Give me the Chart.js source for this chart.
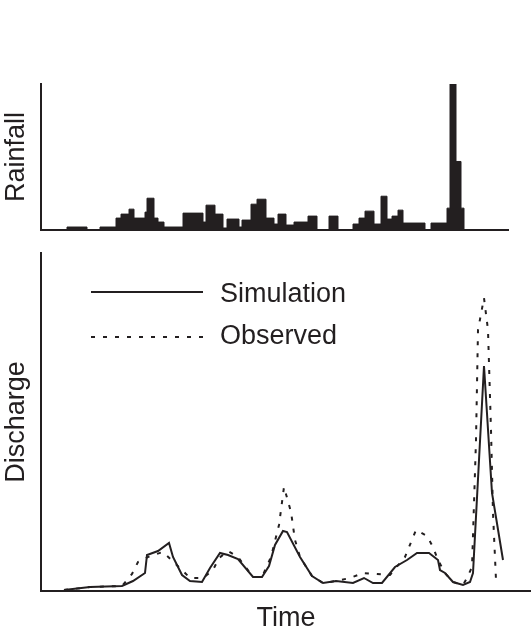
<!DOCTYPE html>
<html>
<head>
<meta charset="utf-8">
<script src="https://cdn.jsdelivr.net/npm/chart.js@4"></script>
<style>
  html, body { margin: 0; padding: 0; background: #ffffff; }
  body { width: 531px; height: 633px; position: relative; overflow: hidden; }
  canvas { position: absolute; left: 0; }
  #rain { top: 0; }
  #flow { top: 240px; }
</style>
</head>
<body>
<canvas id="rain" width="531" height="240"></canvas>
<canvas id="flow" width="531" height="393"></canvas>
<script>
// ---- Rainfall (step blocks: start time, intensity) ----
const rainTime  = [0, 26, 46, 59, 75, 80, 88, 93, 104, 106, 113, 117, 123, 142, 162, 165, 174, 182, 186, 198, 201, 210, 216, 225, 233, 237, 245, 253, 267, 276, 288, 297, 312, 318, 324, 333, 340, 346, 351, 357, 362, 384, 390, 406, 409, 415, 420, 423, 467];
const rainValue = [0, 3, 0, 3, 12, 16, 21, 12, 18, 32, 12, 8, 3, 17, 8, 25, 16, 2, 11, 3, 10, 26, 31, 12, 6, 16, 5, 8, 14, 0, 14, 0, 6, 12, 19, 6, 34, 11, 14, 20, 7, 0, 7, 22, 147, 69, 22, 0, 0];
const rainMax = 147;
const rainTimeMax = 467;

// ---- Discharge ----
const simTime = [23, 49, 81, 92, 104, 106, 117, 128, 132, 141, 149, 161, 169, 179, 187, 197, 212, 221, 228, 234, 242, 246, 259, 271, 282, 295, 312, 323, 332, 341, 354, 366, 376, 388, 397, 399, 404, 412, 422, 429, 432, 443, 451, 462];
const simFlow = [1, 4, 5, 10, 18, 36, 40, 48, 34, 16, 10, 9, 23, 38, 36, 32, 14, 14, 25, 46, 60, 59, 34, 15, 8, 10, 8, 13, 8, 8, 24, 31, 38, 38, 31, 21, 18, 9, 6, 9, 18, 225, 98, 31];
const obsTime = [23, 49, 81, 91, 97, 109, 122, 139, 149, 162, 172, 178, 187, 197, 212, 221, 230, 238, 243, 250, 254, 259, 271, 282, 295, 309, 322, 336, 349, 364, 375, 386, 392, 397, 404, 412, 422, 426, 431, 435, 437, 443, 447, 450, 452, 455];
const obsFlow = [1, 4, 5, 17, 29, 35, 39, 23, 13, 13, 21, 33, 40, 34, 14, 14, 34, 66, 104, 79, 51, 34, 15, 8, 10, 13, 18, 17, 16, 34, 61, 55, 44, 31, 18, 9, 6, 13, 24, 151, 261, 293, 261, 161, 78, 11];
const flowMax = 338;
const flowTimeMax = 490;

const seriesLabels = ['Simulation', 'Observed'];
const axisTitles = { rain: 'Rainfall', flow: 'Discharge', time: 'Time' };

const INK = '#231f20';
const FONT = 'Liberation Sans, Arial, Helvetica, sans-serif';

function pts(xs, ys) { return xs.map((x, i) => ({ x: x, y: ys[i] })); }

// Rainfall chart
new Chart(document.getElementById('rain'), {
  type: 'line',
  data: {
    datasets: [{
      data: pts(rainTime, rainValue),
      stepped: true,
      fill: 'origin',
      backgroundColor: INK,
      borderColor: INK,
      borderWidth: 1,
      pointRadius: 0,
      tension: 0
    }]
  },
  options: {
    responsive: false,
    animation: false,
    devicePixelRatio: 1,
    layout: { padding: { top: 84, right: 23, bottom: 10, left: 0 } },
    plugins: { legend: { display: false }, tooltip: { enabled: false } },
    scales: {
      x: {
        type: 'linear', min: 0, max: rainTimeMax,
        grid: { display: false, drawTicks: false },
        ticks: { display: false },
        border: { display: true, color: INK, width: 2 }
      },
      y: {
        min: 0, max: rainMax,
        grid: { display: false, drawTicks: false },
        ticks: { display: false },
        border: { display: true, color: INK, width: 2 },
        title: { display: true, text: axisTitles.rain, color: INK,
                 font: { family: FONT, size: 27 }, padding: { top: 0.4, bottom: 8.2 } }
      }
    }
  }
});

// Legend drawn inside the discharge chart area
const insideLegend = {
  id: 'insideLegend',
  afterDatasetsDraw(chart) {
    const { ctx, chartArea } = chart;
    const lineY = [39, 84];
    const textY = [42, 84];
    ctx.save();
    chart.data.datasets.forEach((ds, i) => {
      ctx.beginPath();
      ctx.strokeStyle = ds.borderColor;
      ctx.lineWidth = ds.borderWidth;
      ctx.setLineDash(ds.borderDash || []);
      ctx.moveTo(chartArea.left + 50, chartArea.top + lineY[i]);
      ctx.lineTo(chartArea.left + 162, chartArea.top + lineY[i]);
      ctx.stroke();
      ctx.setLineDash([]);
      ctx.fillStyle = INK;
      ctx.font = '27px ' + FONT;
      ctx.textBaseline = 'middle';
      ctx.textAlign = 'left';
      ctx.fillText(ds.label, chartArea.left + 179, chartArea.top + textY[i]);
    });
    ctx.restore();
  }
};

new Chart(document.getElementById('flow'), {
  type: 'line',
  data: {
    datasets: [{
      label: seriesLabels[0],
      data: pts(simTime, simFlow),
      borderColor: INK,
      borderWidth: 2,
      pointRadius: 0,
      fill: false,
      tension: 0
    }, {
      label: seriesLabels[1],
      data: pts(obsTime, obsFlow),
      borderColor: INK,
      borderWidth: 2,
      borderDash: [4, 8],
      pointRadius: 0,
      fill: false,
      tension: 0
    }]
  },
  options: {
    responsive: false,
    animation: false,
    devicePixelRatio: 1,
    layout: { padding: { top: 13, right: 0, bottom: 0, left: 0 } },
    plugins: { legend: { display: false }, tooltip: { enabled: false } },
    scales: {
      x: {
        type: 'linear', min: 0, max: flowTimeMax,
        grid: { display: false, drawTicks: false },
        ticks: { display: false },
        border: { display: true, color: INK, width: 2 },
        title: { display: true, text: axisTitles.time, color: INK,
                 font: { family: FONT, size: 27 }, padding: { top: 11.6, bottom: -2 } }
      },
      y: {
        min: 0, max: flowMax,
        grid: { display: false, drawTicks: false },
        ticks: { display: false },
        border: { display: true, color: INK, width: 2 },
        title: { display: true, text: axisTitles.flow, color: INK,
                 font: { family: FONT, size: 27 }, padding: { top: 0.4, bottom: 8.2 } }
      }
    }
  },
  plugins: [insideLegend]
});
</script>
</body>
</html>
